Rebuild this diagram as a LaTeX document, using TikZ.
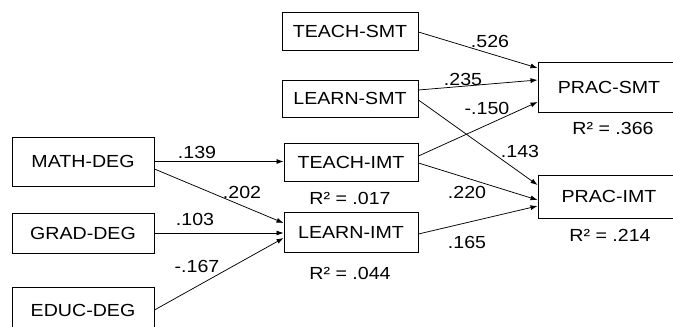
\documentclass[tikz,border=0pt]{standalone}
\usepackage{fontspec}
\setmainfont{Liberation Sans}[FakeStretch=1.12]
\usetikzlibrary{arrows.meta}
\begin{document}
\begin{tikzpicture}[x=1pt,y=-1pt,
  every node/.style={font=\fontsize{17.5}{19}\selectfont, inner sep=0pt},
  var/.style={draw, line width=0.9pt, minimum width=#1, anchor=center},
  lab/.style={anchor=center},
  path/.style={-{Latex[length=7pt,width=5pt]}, line width=0.75pt}]
\useasboundingbox (0,0) rectangle (673,327);
\clip (0,0) rectangle (673,327);
% boxes
\node[var=136pt, minimum height=38pt] (teachsmt) at (350,31) {TEACH-SMT};
\node[var=136pt, minimum height=37pt] (learnsmt) at (350,98.5) {LEARN-SMT};
\node[var=134pt, minimum height=38pt] (teachimt) at (351,162) {TEACH-IMT};
\node[var=134pt, minimum height=40pt] (learnimt) at (351,232.5) {LEARN-IMT};
\node[var=142pt, minimum height=50pt] (pracsmt) at (609,87) {PRAC-SMT};
\node[var=142pt, minimum height=43pt] (pracimt) at (609,196.5) {PRAC-IMT};
\node[var=142pt, minimum height=49pt] (math) at (83,161.5) {MATH-DEG};
\node[var=142pt, minimum height=40pt] (grad) at (83,233) {GRAD-DEG};
\node[var=142pt, minimum height=46pt] (educ) at (83,310) {EDUC-DEG};
% R2 labels
\node[lab] (r1) at (350,198) {R² = .017};
\node[lab] (r2) at (350,273) {R² = .044};
\node[lab] (r3) at (613,128) {R² = .366};
\node[lab] (r4) at (610,235) {R² = .214};
% paths
\draw[path] (math.east) -- (math.east -| teachimt.west);
\draw[path] ([yshift=-7.5pt]math.east) -- ([yshift=9.5pt]learnimt.west);
\draw[path] (grad.east) -- (grad.east -| learnimt.west);
\draw[path] (educ.east) -- ([yshift=-5.5pt]learnimt.west);
\draw[path] ([yshift=-1pt]teachsmt.east) -- ([yshift=19pt]pracsmt.west);
\draw[path] ([yshift=8.5pt]learnsmt.east) -- ([yshift=7pt]pracsmt.west);
\draw[path] ([yshift=-1.5pt]learnsmt.east) -- ([yshift=11.5pt]pracimt.west);
\draw[path] ([yshift=6pt]teachimt.east) -- ([yshift=-15pt]pracsmt.west);
\draw[path] ([yshift=-1pt]teachimt.east) -- ([yshift=-3.5pt]pracimt.west);
\draw[path] ([yshift=-1.5pt]learnimt.east) -- ([yshift=-9.5pt]pracimt.west);
% coefficients
\node[lab] (c1) at (197,152) {.139};
\node[lab] (c2) at (242,192) {.202};
\node[lab] (c3) at (195,219) {.103};
\node[lab] (c4) at (197,266) {-.167};
\node[lab] (c5) at (490,41) {.526};
\node[lab] (c6) at (463,79) {.235};
\node[lab] (c7) at (487,108) {-.150};
\node[lab] (c8) at (520,151) {.143};
\node[lab] (c9) at (467,192) {.220};
\node[lab] (c10) at (467,242) {.165};
\end{tikzpicture}
\end{document}
